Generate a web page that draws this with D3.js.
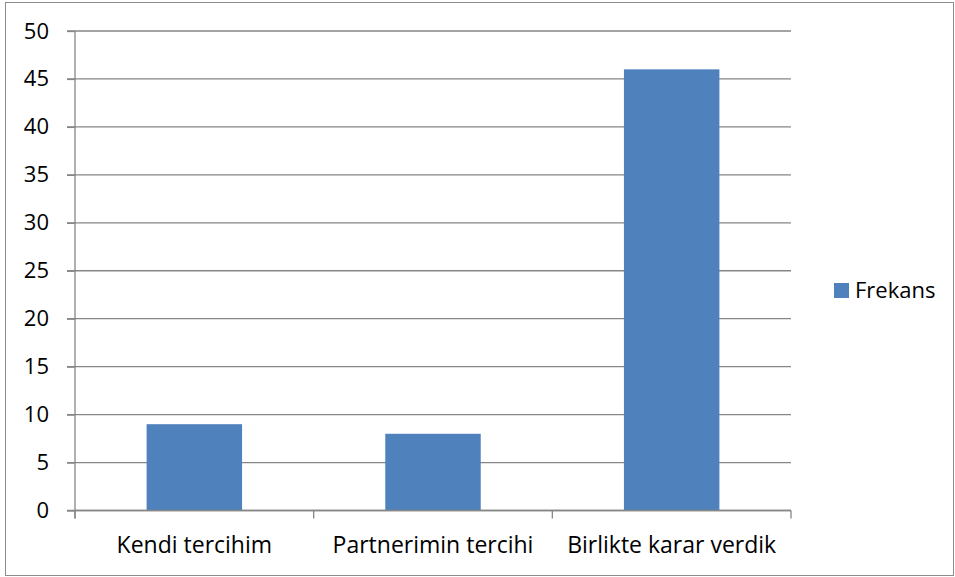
<!DOCTYPE html>
<html>
<head>
<meta charset="utf-8">
<script src="https://cdn.jsdelivr.net/npm/d3@7"></script>
<style>
  body { margin: 0; background: #fff; }
  text { font-family: "Open Sans", sans-serif; fill: #000; }
</style>
</head>
<body>
<div class="barchart"></div>
<script>
  var categories = ["Kendi tercihim", "Partnerimin tercihi", "Birlikte karar verdik"];
  var frekans = [9, 8, 46];
  var yTicks = [0, 5, 10, 15, 20, 25, 30, 35, 40, 45, 50];
  var seriesName = "Frekans";

  var W = 955, H = 577;
  var margin = { top: 31, left: 75 },
    width = 791 - margin.left,
    height = 510.5 - margin.top;

  var svg = d3.select(".barchart").append("svg")
    .attr("width", W)
    .attr("height", H);

  // outer frame
  svg.append("rect")
    .attr("x", 5.5).attr("y", 2.5)
    .attr("width", 948).attr("height", 573)
    .attr("fill", "none")
    .attr("stroke", "#8c8c8c")
    .attr("stroke-width", 1);

  var chart = svg.append("g")
    .attr("transform", "translate(" + margin.left + "," + margin.top + ")");

  var x = d3.scaleBand()
    .domain(categories)
    .range([0, width])
    .paddingInner(0.6)
    .paddingOuter(0.3);

  var y = d3.scaleLinear()
    .domain([0, 50])
    .range([height, 0]);

  // gridlines
  chart.selectAll(".grid")
    .data(yTicks)
    .enter().append("line")
    .attr("class", "grid")
    .attr("x1", -8).attr("x2", width)
    .attr("y1", function(d) { return y(d); })
    .attr("y2", function(d) { return y(d); })
    .attr("stroke", "#868686")
    .attr("stroke-width", 1.3);

  // bars
  chart.selectAll(".bar")
    .data(frekans)
    .enter().append("rect")
    .attr("class", "bar")
    .attr("x", function(d, i) { return x(categories[i]); })
    .attr("width", x.bandwidth())
    .attr("y", function(d) { return y(d); })
    .attr("height", function(d) { return height - y(d); })
    .attr("fill", "#4f81bd");

  // y axis
  var yAxis = chart.append("g")
    .call(d3.axisLeft(y).tickValues(yTicks).tickSize(8).tickPadding(18));
  yAxis.select(".domain").attr("stroke", "#868686").attr("stroke-width", 1.3)
    .attr("d", "M0," + (height + 8) + "V0");
  yAxis.selectAll(".tick line").attr("stroke", "#868686").attr("stroke-width", 1.3);
  yAxis.selectAll("text").style("font-size", "22px").style("font-family", "'Open Sans', sans-serif");

  // x axis
  var step = width / categories.length;
  var xg = chart.append("g").attr("transform", "translate(0," + height + ")");
  xg.append("line")
    .attr("x1", 0).attr("x2", width)
    .attr("stroke", "#868686").attr("stroke-width", 1.3);
  xg.selectAll(".xtick")
    .data(d3.range(categories.length + 1))
    .enter().append("line")
    .attr("class", "xtick")
    .attr("x1", function(d) { return d * step; })
    .attr("x2", function(d) { return d * step; })
    .attr("y1", 0).attr("y2", 8)
    .attr("stroke", "#868686").attr("stroke-width", 1.3);
  xg.selectAll(".xlabel")
    .data(categories)
    .enter().append("text")
    .attr("class", "xlabel")
    .attr("x", function(d) { return x(d) + x.bandwidth() / 2; })
    .attr("y", 42)
    .attr("text-anchor", "middle")
    .style("font-size", "23px")
    .text(function(d) { return d; });

  // legend
  var legend = svg.append("g").attr("transform", "translate(834,283)");
  legend.append("rect")
    .attr("width", 15).attr("height", 15)
    .attr("fill", "#4f81bd");
  legend.append("text")
    .attr("x", 21).attr("y", 15)
    .style("font-size", "22px")
    .text(seriesName);
</script>
</body>
</html>
